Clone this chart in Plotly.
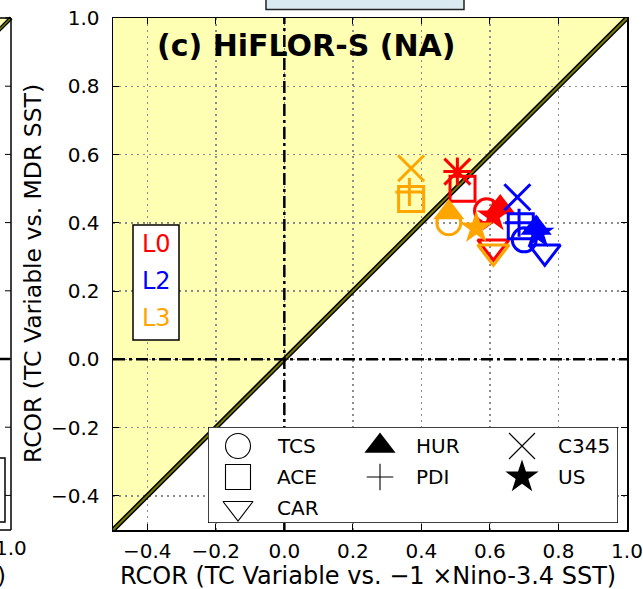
import plotly.graph_objects as go

# ---------------- data ----------------
levels = ["L0", "L2", "L3"]
level_colors = ["red", "blue", "orange"]
variables = ["TCS", "ACE", "CAR", "HUR", "PDI", "C345", "US"]

# RCOR (TC variable vs. -1 x Nino-3.4 SST)
x_L0 = [0.59, 0.52, 0.61, 0.63, 0.505, 0.505, 0.61]
x_L2 = [0.70, 0.69, 0.76, 0.735, 0.685, 0.68, 0.74]
x_L3 = [0.48, 0.37, 0.61, 0.48, 0.365, 0.37, 0.56]
# RCOR (TC variable vs. MDR SST)
y_L0 = [0.435, 0.50, 0.33, 0.445, 0.55, 0.55, 0.42]
y_L2 = [0.35, 0.39, 0.315, 0.385, 0.40, 0.475, 0.37]
y_L3 = [0.40, 0.47, 0.315, 0.43, 0.49, 0.56, 0.385]

x_range = [-0.5, 1.0]
y_range = [-0.5, 1.0]
tick_vals = [-0.4, -0.2, 0.0, 0.2, 0.4, 0.6, 0.8, 1.0]

title_text = "(c) HiFLOR-S (NA)"
xlabel = "RCOR (TC Variable vs. \u22121 \u00d7Nino-3.4 SST)"
ylabel = "RCOR (TC Variable vs. MDR SST)"

# ---------------- styles ----------------
FONT = "DejaVu Sans"
W, H = 643, 589
L, R, T, B = 113, 16, 18, 59
PW, PH = W - L - R, H - T - B

def px(xp):  # page pixel -> paper x
    return (xp - L) / PW

def py(yp):  # page pixel -> paper y
    return (H - B - yp) / PH

sym = {"TCS": "circle-open", "ACE": "square-open", "CAR": "triangle-down-open",
       "HUR": "triangle-up", "PDI": "cross-thin-open", "C345": "x-thin-open",
       "US": "star"}
size = {"TCS": 24, "ACE": 25, "CAR": 27, "HUR": 27, "PDI": 20, "C345": 26, "US": 25}
lsize = {"TCS": 25, "ACE": 25, "CAR": 26, "HUR": 27, "PDI": 19, "C345": 26, "US": 25}

fig = go.Figure()

# diagonal 1:1 line
fig.add_trace(go.Scatter(x=x_range, y=y_range, mode="lines",
                         line=dict(color="black", width=5), hoverinfo="skip",
                         showlegend=False))
fig.add_trace(go.Scatter(x=x_range, y=y_range, mode="lines",
                         line=dict(color="#7a7a00", width=2), hoverinfo="skip",
                         showlegend=False))
# zero lines (dash-dot)
fig.add_trace(go.Scatter(x=[0, 0], y=y_range, mode="lines",
                         line=dict(color="black", width=2.5, dash="12px,4px,3px,4px"),
                         showlegend=False, hoverinfo="skip"))
fig.add_trace(go.Scatter(x=x_range, y=[0, 0], mode="lines",
                         line=dict(color="black", width=2.5, dash="12px,4px,3px,4px"),
                         showlegend=False, hoverinfo="skip"))

xs = [x_L0, x_L2, x_L3]
ys = [y_L0, y_L2, y_L3]
for lev, col, xv, yv in zip(levels, level_colors, xs, ys):
    for i, v in enumerate(variables):
        s = sym[v]
        filled = not s.endswith("-open")
        fig.add_trace(go.Scatter(
            x=[xv[i]], y=[yv[i]], mode="markers", name=f"{lev} {v}",
            showlegend=False,
            marker=dict(symbol=s, size=size[v], color=col,
                        line=dict(color=col, width=0 if filled else 3))))

# ---------------- legend (own small subplot) ----------------
lx0, lx1, ly0, ly1 = 208, 618, 427, 523
fig.add_trace(go.Scatter(x=[0, 1, 1, 0, 0], y=[0, 0, 1, 1, 0], mode="lines",
                         fill="toself", fillcolor="white",
                         line=dict(color="black", width=1.5),
                         xaxis="x2", yaxis="y2", showlegend=False,
                         hoverinfo="skip", cliponaxis=False))
col_sym = [(238 - lx0) / (lx1 - lx0), (380 - lx0) / (lx1 - lx0), (522 - lx0) / (lx1 - lx0)]
col_txt = [(275 - lx0) / (lx1 - lx0), (414 - lx0) / (lx1 - lx0), (556 - lx0) / (lx1 - lx0)]
row_y = [(ly1 - 446) / (ly1 - ly0), (ly1 - 477) / (ly1 - ly0), (ly1 - 508) / (ly1 - ly0)]
layout_order = [("TCS", 0, 0), ("ACE", 0, 1), ("CAR", 0, 2),
                ("HUR", 1, 0), ("PDI", 1, 1), ("C345", 2, 0), ("US", 2, 1)]
annotations = []
for v, c, r in layout_order:
    s = sym[v]
    filled = not s.endswith("-open")
    fig.add_trace(go.Scatter(
        x=[col_sym[c]], y=[row_y[r]], mode="markers", xaxis="x2", yaxis="y2",
        showlegend=False, hoverinfo="skip", cliponaxis=False,
        marker=dict(symbol=s, size=lsize[v], color="black",
                    line=dict(color="black", width=0 if filled else 1.1))))
    annotations.append(dict(x=col_txt[c], y=row_y[r], xref="x2", yref="y2",
                            text=v, showarrow=False, xanchor="left", yanchor="middle",
                            font=dict(family=FONT, size=20, color="black")))

# ---------------- shapes ----------------
shapes = [
    # yellow region above the 1:1 line
    dict(type="path", xref="x", yref="y", layer="below",
         path=f"M{x_range[0]},{y_range[0]} L{x_range[1]},{y_range[1]} "
              f"L{x_range[0]},{y_range[1]} Z",
         fillcolor="#ffffb3", line=dict(width=0)),
    # L0/L2/L3 box
    dict(type="rect", xref="paper", yref="paper", layer="above",
         x0=px(133), x1=px(179), y0=py(340), y1=py(225),
         fillcolor="white", line=dict(color="black", width=1.5)),
    # fragment of neighbouring panel (left)
    dict(type="path", xref="paper", yref="paper", layer="above",
         path=f"M{px(-2)},{py(18)} L{px(11)},{py(18)} L{px(-2)},{py(31)} Z",
         fillcolor="#ffffb3", line=dict(width=0)),
    dict(type="line", xref="paper", yref="paper", x0=px(-2), y0=py(31), x1=px(11), y1=py(18),
         line=dict(color="black", width=4)),
    dict(type="line", xref="paper", yref="paper", x0=px(-2), y0=py(31), x1=px(11), y1=py(18),
         line=dict(color="#7a7a00", width=1.5)),
    dict(type="line", xref="paper", yref="paper", x0=px(11), y0=py(18), x1=px(11), y1=py(530),
         line=dict(color="black", width=1.5)),
    dict(type="line", xref="paper", yref="paper", x0=px(-2), y0=py(18), x1=px(11), y1=py(18),
         line=dict(color="black", width=1.5)),
    dict(type="line", xref="paper", yref="paper", x0=px(-2), y0=py(530), x1=px(11), y1=py(530),
         line=dict(color="black", width=1.5)),
    dict(type="line", xref="paper", yref="paper", x0=px(-2), y0=py(359), x1=px(11), y1=py(359),
         line=dict(color="black", width=2.5, dash="12px,4px,3px,4px")),
    dict(type="rect", xref="paper", yref="paper", x0=px(-5), x1=px(5), y0=py(522), y1=py(458),
         fillcolor="white", line=dict(color="black", width=1.5)),
    # box of panel above (cut off)
    dict(type="rect", xref="paper", yref="paper", x0=px(266), x1=px(464), y0=py(9.5), y1=py(-5),
         fillcolor="#d9eaf1", line=dict(color="#222222", width=1.5)),
]
for tv in tick_vals:
    yy = 359 - tv * 341
    shapes.append(dict(type="line", xref="paper", yref="paper", x0=px(5), x1=px(11),
                       y0=py(yy), y1=py(yy), line=dict(color="black", width=1)))

# ---------------- texts ----------------
annotations += [
    dict(x=px(155), y=py(45), xref="paper", yref="paper", text=f"<b>{title_text}</b>",
         showarrow=False, xanchor="left", yanchor="middle",
         font=dict(family=FONT, size=30, color="black")),
    dict(x=px(156), y=py(244), xref="paper", yref="paper", text="L0", showarrow=False,
         xanchor="center", yanchor="middle", font=dict(family=FONT, size=24, color="red")),
    dict(x=px(156), y=py(281), xref="paper", yref="paper", text="L2", showarrow=False,
         xanchor="center", yanchor="middle", font=dict(family=FONT, size=24, color="blue")),
    dict(x=px(156), y=py(318), xref="paper", yref="paper", text="L3", showarrow=False,
         xanchor="center", yanchor="middle", font=dict(family=FONT, size=24, color="orange")),
    dict(x=px(368), y=py(576), xref="paper", yref="paper", text=xlabel, showarrow=False,
         xanchor="center", yanchor="middle", font=dict(family=FONT, size=24, color="black")),
    dict(x=px(33), y=py(274), xref="paper", yref="paper", text=ylabel, showarrow=False,
         textangle=-90, xanchor="center", yanchor="middle",
         font=dict(family=FONT, size=23.5, color="black")),
    dict(x=px(11), y=py(548), xref="paper", yref="paper", text="1.0", showarrow=False,
         xanchor="center", yanchor="middle", font=dict(family=FONT, size=20, color="black")),
    dict(x=px(1), y=py(576), xref="paper", yref="paper", text=")", showarrow=False,
         xanchor="center", yanchor="middle", font=dict(family=FONT, size=23, color="black")),
]

axis_common = dict(showline=True, linecolor="black", linewidth=1.5, mirror="ticks",
                   ticks="inside", ticklen=6, tickwidth=1, tickcolor="black",
                   showgrid=True, gridcolor="#8c8c8c", gridwidth=1.5, griddash="2px,4px",
                   zeroline=False, tickvals=tick_vals, tickformat=".1f",
                   tickfont=dict(family=FONT, size=20, color="black"))

fig.update_layout(
    width=W, height=H, margin=dict(l=L, r=R, t=T, b=B, autoexpand=False),
    paper_bgcolor="white", plot_bgcolor="white",
    font=dict(family=FONT),
    xaxis=dict(range=x_range, automargin=False, ticklabelstandoff=2, **axis_common),
    yaxis=dict(range=y_range, automargin=False, ticklabelstandoff=8, **axis_common),
    xaxis2=dict(domain=[px(lx0), px(lx1)], range=[0, 1], anchor="y2", visible=False,
                fixedrange=True),
    yaxis2=dict(domain=[py(ly1), py(ly0)], range=[0, 1], anchor="x2", visible=False,
                fixedrange=True),
    shapes=shapes, annotations=annotations, showlegend=False,
)

fig.write_html(
    "out.html",
    config={"displayModeBar": False, "staticPlot": True},
    post_script="document.body.style.margin='0px';"
                "document.documentElement.style.overflow='hidden';",
)
